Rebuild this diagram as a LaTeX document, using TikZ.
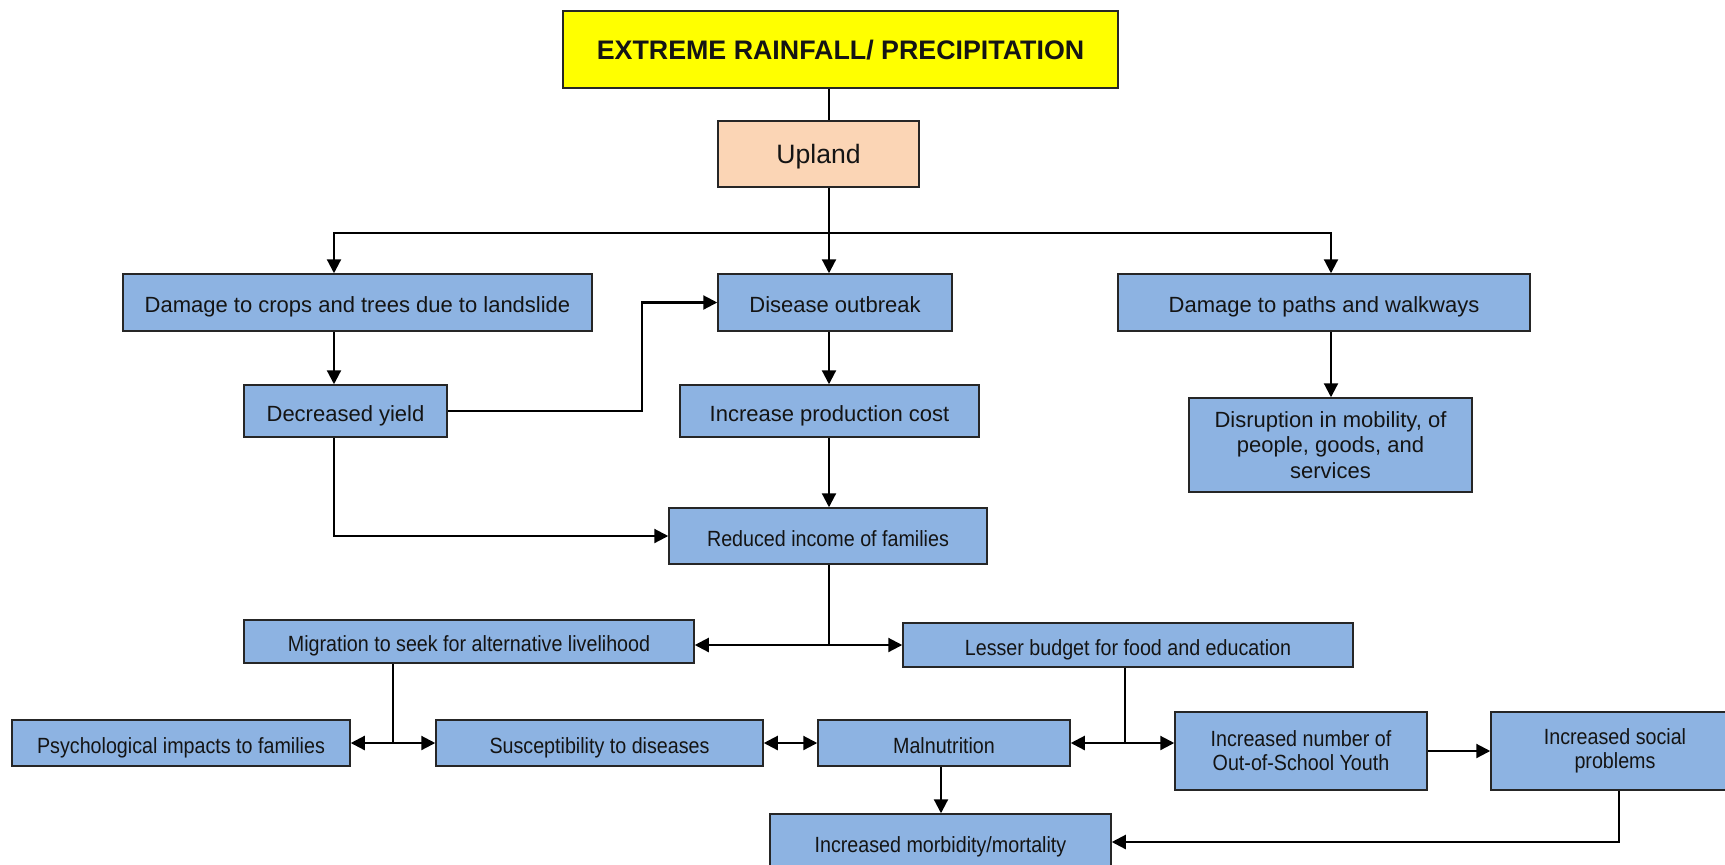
\documentclass[tikz,border=0pt]{standalone}
\usepackage{fontspec}
\setmainfont{Liberation Sans}
\newfontfamily\narrowfont[FakeStretch=0.895]{Liberation Sans}
\usetikzlibrary{arrows.meta}
\definecolor{boxblue}{RGB}{141,179,226}
\definecolor{peach}{RGB}{251,213,181}
\definecolor{titleyellow}{RGB}{255,255,0}
\definecolor{txt}{RGB}{20,20,20}
\tikzset{
  box/.style={draw=black!85, line width=0.75pt, fill=boxblue, inner sep=0pt, text=txt, align=center,
    font=\fontsize{11}{12.9}\selectfont},
  sbox/.style={box, text height=10pt, text depth=0pt},
  nbox/.style={box, font=\narrowfont\fontsize{11}{12}\selectfont},
  snbox/.style={nbox, text height=10pt, text depth=0pt},
  conn/.style={line width=1.1pt, draw=black},
  arr/.style={conn, -{Triangle[length=7pt,width=7pt]}},
  arrtwo/.style={conn, {Triangle[length=7pt,width=7pt]}-{Triangle[length=7pt,width=7pt]}}
}
\begin{document}
\begin{tikzpicture}[x=0.5pt,y=-0.5pt]
\useasboundingbox (0,0) rectangle (1725,864);
\clip (0,0) rectangle (1725,864);
% nodes
\node[box, fill=titleyellow, minimum width=277.5pt, minimum height=38.5pt, text height=9.6pt, text depth=0pt, font=\bfseries\fontsize{13.4}{15}\selectfont] (title) at (840.5,49.5) {EXTREME RAINFALL/ PRECIPITATION};
\node[box, fill=peach, minimum width=100.5pt, minimum height=33pt, text height=9.5pt, text depth=0pt, font=\fontsize{13.3}{15}\selectfont] (upland) at (818.5,154) {Upland};
\node[sbox, minimum width=234.5pt, minimum height=28.5pt] (crops) at (357.5,302.5) {Damage to crops and trees due to landslide};
\node[sbox, minimum width=117pt, minimum height=28.5pt] (disease) at (835,302.5) {Disease outbreak};
\node[sbox, minimum width=206pt, minimum height=28.5pt] (paths) at (1324,302.5) {Damage to paths and walkways};
\node[sbox, minimum width=101.5pt, minimum height=26pt] (yield) at (345.5,411) {Decreased yield};
\node[sbox, minimum width=149.5pt, minimum height=26pt] (cost) at (829.5,411) {Increase production cost};
\node[box, minimum width=141.5pt, minimum height=47pt] (disrupt) at (1330.5,445) {Disruption in mobility, of\\people, goods, and\\services};
\node[snbox, minimum width=159pt, minimum height=28pt] (income) at (828,536) {Reduced income of families};
\node[snbox, minimum width=225pt, minimum height=21.5pt] (migr) at (469,641.5) {Migration to seek for alternative livelihood};
\node[snbox, minimum width=225pt, minimum height=22pt] (budget) at (1128,645) {Lesser budget for food and education};
\node[snbox, minimum width=169pt, minimum height=23pt] (psych) at (181,743) {Psychological impacts to families};
\node[snbox, minimum width=163.5pt, minimum height=23pt] (susc) at (599.5,743) {Susceptibility to diseases};
\node[snbox, minimum width=126pt, minimum height=23pt] (malnut) at (944,743) {Malnutrition};
\node[nbox, minimum width=126pt, minimum height=39pt] (osy) at (1301,751) {Increased number of\\Out-of-School Youth};
\node[nbox, minimum width=124pt, minimum height=39pt] (social) at (1615,751) {Increased social\\problems};
\node[snbox, minimum width=170.5pt, minimum height=28pt] (morb) at (940.5,842) {Increased morbidity/mortality};
% helper coordinates
\coordinate (sp) at (829,0);
\coordinate (bar) at (0,233);
\coordinate (cx) at (334,0);
\coordinate (px) at (1331,0);
\coordinate (j1) at (829,645);
\coordinate (j2) at (393,743);
\coordinate (j3) at (1125,743);
\coordinate (mx) at (941,0);
\coordinate (sx) at (1619,0);
% connectors
\draw[conn] (title.south -| sp) -- (upland.north -| sp);
\draw[arr] (upland.south -| sp) -- (disease.north -| sp);
\draw[arr] (sp |- bar) -| (crops.north -| cx);
\draw[arr] (sp |- bar) -| (paths.north -| px);
\draw[arr] (crops.south -| cx) -- (yield.north -| cx);
\draw[arr] (yield.east) -- ++(194,0) |- (disease.west);
\draw[arr] (disease.south -| sp) -- (cost.north -| sp);
\draw[arr] (cost.south -| sp) -- (income.north -| sp);
\draw[arr] (yield.south -| cx) |- (income.west);
\draw[arr] (paths.south -| px) -- (disrupt.north -| px);
\draw[conn] (income.south -| sp) -- (j1);
\draw[arr] (j1) -- (migr.east |- j1);
\draw[arr] (j1) -- (budget.west |- j1);
\draw[conn] (migr.south -| j2) -- (j2);
\draw[arr] (j2) -- (psych.east |- j2);
\draw[arr] (j2) -- (susc.west |- j2);
\draw[arrtwo] (susc.east) -- (malnut.west);
\draw[conn] (budget.south -| j3) -- (j3);
\draw[arr] (j3) -- (malnut.east |- j3);
\draw[arr] (j3) -- (osy.west |- j3);
\draw[arr] (osy.east) -- (social.west);
\draw[arr] (malnut.south -| mx) -- (morb.north -| mx);
\draw[arr] (social.south -| sx) |- (morb.east);
\end{tikzpicture}
\end{document}
